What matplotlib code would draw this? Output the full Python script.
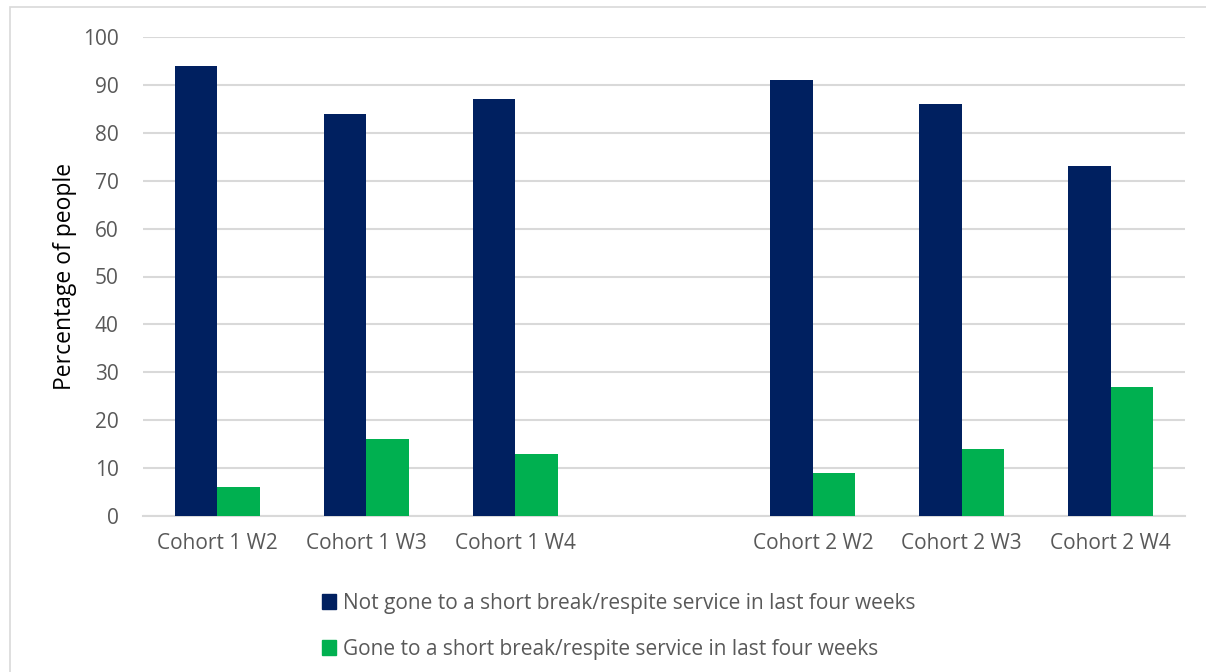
import matplotlib
matplotlib.use("Agg")
import matplotlib.pyplot as plt
from matplotlib.patches import Rectangle, Patch
import numpy as np

categories = ["Cohort 1 W2", "Cohort 1 W3", "Cohort 1 W4", "", "Cohort 2 W2", "Cohort 2 W3", "Cohort 2 W4"]
not_gone = [94, 84, 87, np.nan, 91, 86, 73]
gone = [6, 16, 13, np.nan, 9, 14, 27]
series_labels = ["Not gone to a short break/respite service in last four weeks",
                 "Gone to a short break/respite service in last four weeks"]
yticks = [0, 10, 20, 30, 40, 50, 60, 70, 80, 90, 100]

navy = "#002060"
green = "#00B050"
grey_text = "#595959"

plt.rcParams['font.family'] = ['Open Sans', 'DejaVu Sans']

fig = plt.figure(figsize=(12.06, 6.72), dpi=100)
ax = fig.add_axes([143/1206, 1-516/672, (1185-143)/1206, (516-37)/672])

x = np.arange(len(categories))
w = 0.285
ax.bar(x - w/2, not_gone, w, color=navy, zorder=3)
ax.bar(x + w/2, gone, w, color=green, zorder=3)

ax.set_xlim(-0.5, len(categories) - 0.5)
ax.set_ylim(0, 100)
ax.set_yticks(yticks)
ax.yaxis.grid(True, color="#D9D9D9", linewidth=1.5, zorder=0)
ax.set_axisbelow(True)
for s in ["top", "right", "left"]:
    ax.spines[s].set_visible(False)
ax.spines["bottom"].set_color("#D9D9D9")
ax.spines["bottom"].set_linewidth(1.5)
ax.set_xticks(x)
ax.set_xticklabels(categories)
ax.tick_params(axis="both", length=0, labelsize=15, colors=grey_text)
ax.tick_params(axis="x", pad=12)
ax.tick_params(axis="y", pad=17.5)
ax.set_ylabel("Percentage of people", fontsize=16.5, color="black", labelpad=4)

handles = [Patch(color=navy), Patch(color=green)]
fig.legend(handles, series_labels, loc="center left", bbox_to_anchor=(303/1206, 1-626/672),
           frameon=False, fontsize=15, labelcolor=grey_text, handlelength=0.7, handleheight=0.7,
           handletextpad=0.3, labelspacing=1.2)

fig.patches.append(Rectangle((10/1206, -0.1), 1.2, 1-7/672+0.1, transform=fig.transFigure,
                             fill=False, edgecolor="#D9D9D9", linewidth=1.2))

fig.savefig("out.png", dpi=100)
